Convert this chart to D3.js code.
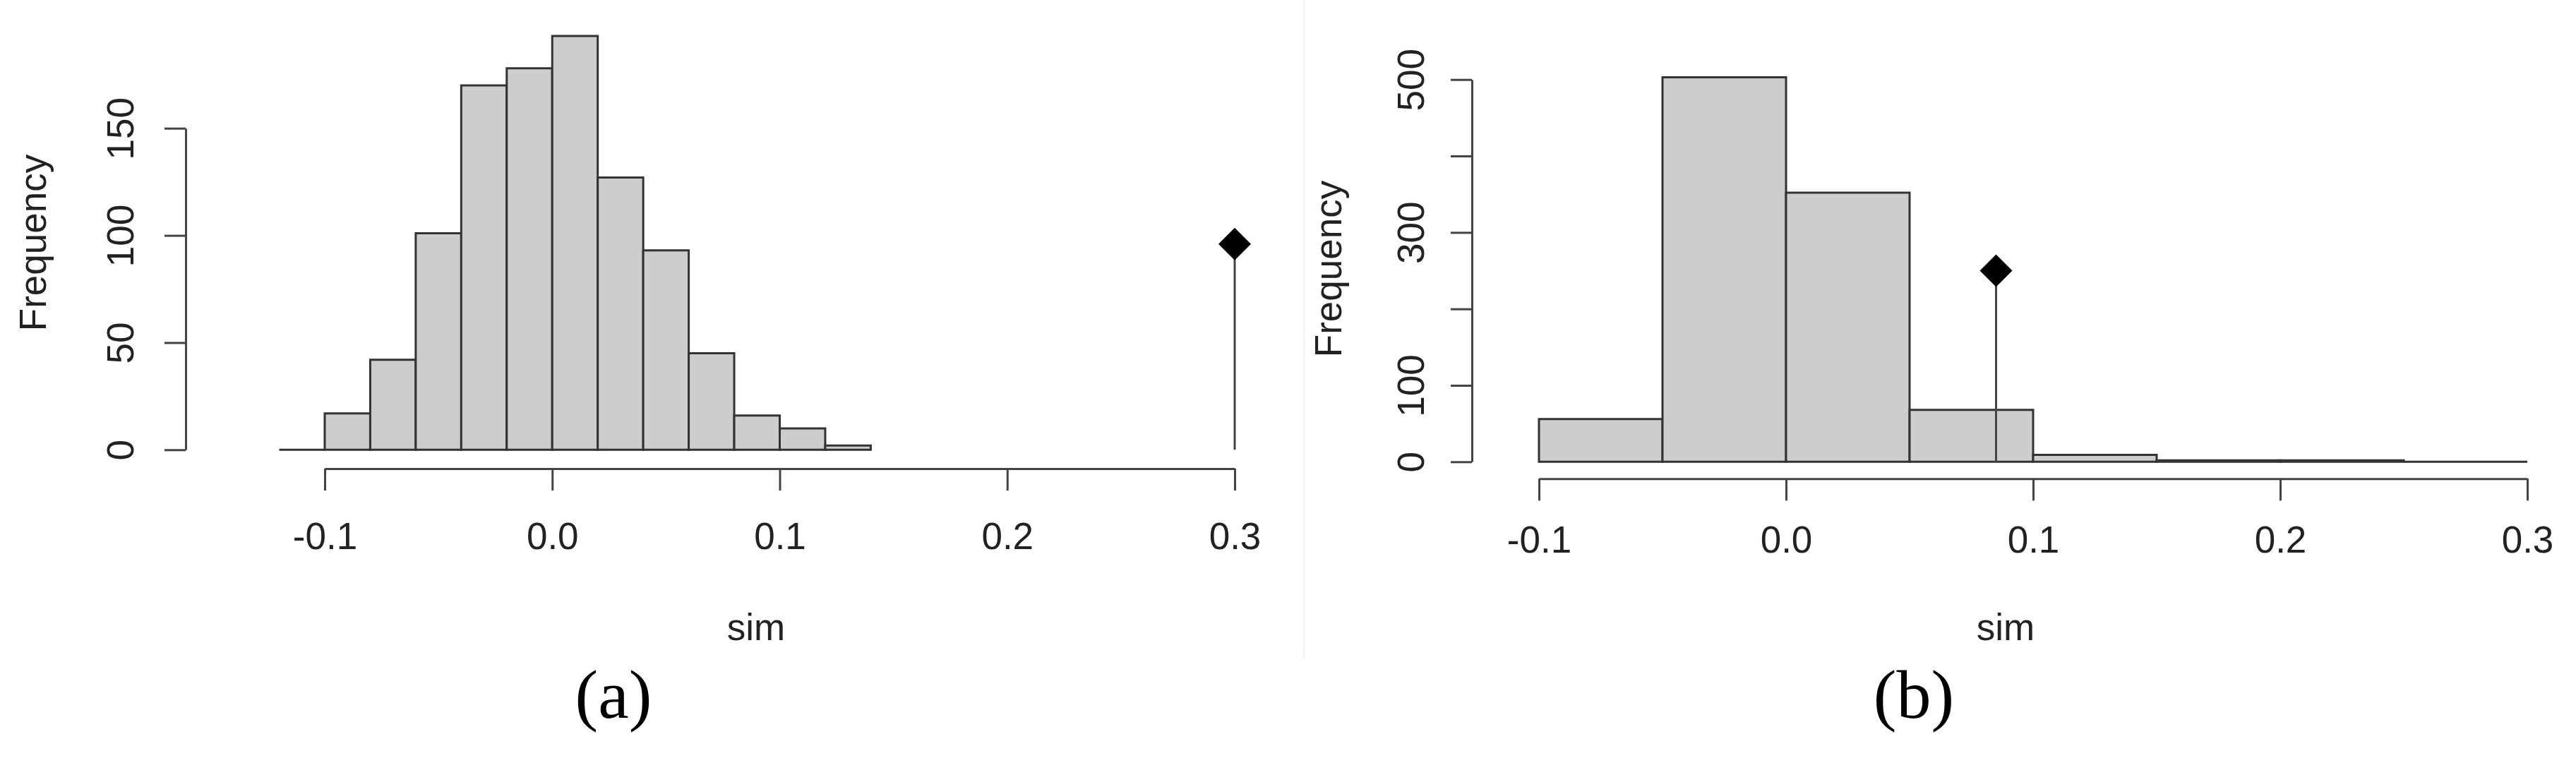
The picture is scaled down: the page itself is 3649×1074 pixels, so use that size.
<!DOCTYPE html>
<html>
<head>
<meta charset="utf-8">
<script src="https://cdn.jsdelivr.net/npm/d3@7"></script>
<style>
  body { margin: 0; background: #fff; }
  text { font-family: "Liberation Sans", Arial, sans-serif; fill: #222; }
</style>
</head>
<body>
<div id="chart"></div>
<script>
/* Two R-style histograms of "sim" with an observed value marker */

// panel (a): bins of 0.02
const breaksA = [-0.12, -0.10, -0.08, -0.06, -0.04, -0.02, 0.00, 0.02, 0.04, 0.06, 0.08, 0.10, 0.12, 0.14];
const countsA = [0, 17, 42, 101, 170, 178, 193, 127, 93, 45, 16, 10, 2];
const obsA = { sim: 0.3, freq: 96 };
const yTicksA = [0, 50, 100, 150];

// panel (b): bins of 0.05
const breaksB = [-0.10, -0.05, 0.00, 0.05, 0.10, 0.15, 0.20, 0.25, 0.30];
const countsB = [56, 503, 352, 68, 9, 2, 2, 0];
const obsB = { sim: 0.085, freq: 250 };
const yTicksB = [0, 100, 200, 300, 400, 500];
const yLabelsB = [0, 100, 300, 500];

const xTicks = [-0.1, 0.0, 0.1, 0.2, 0.3];

const width = 3649, height = 1074;

let svg = d3.select("#chart")
    .append("svg")
    .attr("width", width)
    .attr("height", height);

// faint border between the two screenshots
svg.append("line")
    .attr("x1", 1847).attr("x2", 1847)
    .attr("y1", 0).attr("y2", 933)
    .attr("stroke", "#f0f0f0")
    .attr("stroke-width", 2);

function drawPanel(p) {
    let x = d3.scaleLinear().domain([-0.1, 0.3]).range(p.xRange);
    let y = d3.scaleLinear().domain([0, p.yMax]).range(p.yRange);

    let bins = p.counts.map((c, i) => ({ lo: p.breaks[i], hi: p.breaks[i + 1], n: c }));

    let g = svg.append("g");

    // bars as closed paths so empty bins still show as a flat line
    g.selectAll(".bar")
        .data(bins)
        .join("path")
        .attr("class", "bar")
        .attr("d", d => {
            let pth = d3.path();
            pth.moveTo(x(d.lo), y(0));
            pth.lineTo(x(d.lo), y(d.n));
            pth.lineTo(x(d.hi), y(d.n));
            pth.lineTo(x(d.hi), y(0));
            pth.closePath();
            return pth.toString();
        })
        .attr("fill", "#cdcdcd")
        .attr("stroke", "#333")
        .attr("stroke-width", 3);

    // observed value: stem + diamond
    g.append("line")
        .attr("x1", x(p.obs.sim)).attr("x2", x(p.obs.sim))
        .attr("y1", y(0)).attr("y2", y(p.obs.freq))
        .attr("stroke", "#444")
        .attr("stroke-width", 3);

    g.append("path")
        .attr("d", d3.symbol(d3.symbolSquare, 1058)())
        .attr("transform", `translate(${x(p.obs.sim)},${y(p.obs.freq)}) rotate(45)`)
        .attr("fill", "#000");

    // x axis
    let xAxis = g.append("g")
        .attr("transform", `translate(0,${p.xAxisY})`)
        .call(d3.axisBottom(x).tickValues(xTicks).tickFormat(d => d.toFixed(1))
            .tickSize(31).tickSizeOuter(0));
    xAxis.select(".domain").attr("stroke", "#444").attr("stroke-width", 3);
    xAxis.selectAll(".tick line").attr("stroke", "#444").attr("stroke-width", 3);
    xAxis.selectAll(".tick text")
        .attr("y", p.xLabelBase - p.xAxisY)
        .attr("dy", 0)
        .style("font-size", "53px")
        .attr("fill", "#222")
        .attr("font-family", null);

    // y axis
    let yAxis = g.append("g")
        .attr("transform", `translate(${p.yAxisX},0)`)
        .call(d3.axisLeft(y).tickValues(p.yTicks)
            .tickFormat(d => p.yLabels.includes(d) ? d : "")
            .tickSize(30).tickSizeOuter(0));
    yAxis.select(".domain").attr("stroke", "#444").attr("stroke-width", 3);
    yAxis.selectAll(".tick line").attr("stroke", "#444").attr("stroke-width", 3);
    yAxis.selectAll(".tick text")
        .attr("transform", "rotate(-90)")
        .attr("x", 0)
        .attr("y", p.yLabelBase)
        .attr("dy", 0)
        .attr("text-anchor", "middle")
        .style("font-size", "53px")
        .attr("fill", "#222")
        .attr("font-family", null);

    // axis titles
    g.append("text")
        .attr("x", p.simX)
        .attr("y", 907)
        .attr("text-anchor", "middle")
        .style("font-size", "53px")
        .text("sim");

    g.append("text")
        .attr("transform", `translate(${p.freqX},${p.freqY}) rotate(-90)`)
        .attr("text-anchor", "middle")
        .style("font-size", "53px")
        .text("Frequency");

    // panel caption
    g.append("text")
        .attr("x", p.capX)
        .attr("y", 1017)
        .attr("text-anchor", "middle")
        .style("font-family", "'Liberation Serif', 'DejaVu Serif', serif")
        .style("font-size", "98px")
        .style("fill", "#000")
        .text(p.caption);
}

drawPanel({
    breaks: breaksA, counts: countsA, obs: obsA,
    yMax: 150, yTicks: yTicksA, yLabels: yTicksA,
    xRange: [460, 1749], yRange: [637.3, 181.7],
    xAxisY: 664, xLabelBase: 778,
    yAxisX: 263, yLabelBase: -74,
    simX: 1071, freqX: 65, freqY: 344,
    capX: 869, caption: "(a)"
});

drawPanel({
    breaks: breaksB, counts: countsB, obs: obsB,
    yMax: 500, yTicks: yTicksB, yLabels: yLabelsB,
    xRange: [2180, 3580], yRange: [654.3, 112.7],
    xAxisY: 678.3, xLabelBase: 783,
    yAxisX: 2085, yLabelBase: -68,
    simX: 2841, freqX: 1900, freqY: 381,
    capX: 2711, caption: "(b)"
});
</script>
</body>
</html>
